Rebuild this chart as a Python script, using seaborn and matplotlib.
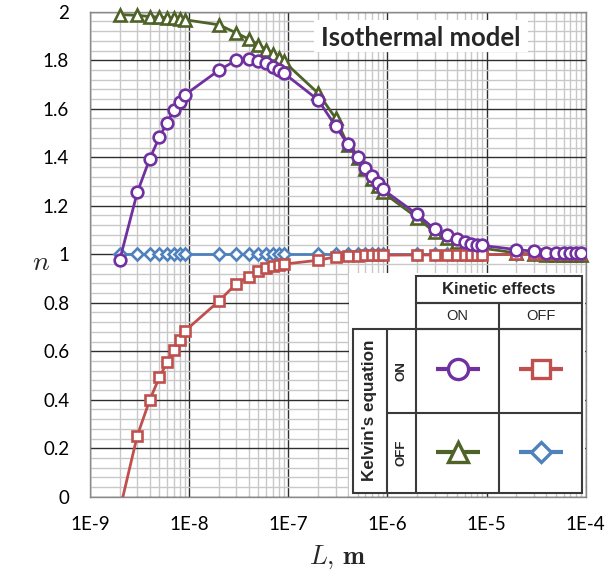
import numpy as np
import pandas as pd
import matplotlib
matplotlib.use("Agg")
import matplotlib.pyplot as plt
import matplotlib.ticker as mticker
from matplotlib.patches import Rectangle
import seaborn as sns

# ---------------- data ----------------
L_m = [2e-9, 3e-9, 4e-9, 5e-9, 6e-9, 7e-9, 8e-9, 9e-9,
       2e-8, 3e-8, 4e-8, 5e-8, 6e-8, 7e-8, 8e-8, 9e-8,
       2e-7, 3e-7, 4e-7, 5e-7, 6e-7, 7e-7, 8e-7, 9e-7,
       2e-6, 3e-6, 4e-6, 5e-6, 6e-6, 7e-6, 8e-6, 9e-6,
       2e-5, 3e-5, 4e-5, 5e-5, 6e-5, 7e-5, 8e-5, 9e-5]

# Kelvin ON, kinetic ON (purple circles)
n_kel_on_kin_on = [0.978, 1.255, 1.393, 1.482, 1.543, 1.595, 1.628, 1.656,
                   1.759, 1.800, 1.804, 1.798, 1.790, 1.773, 1.760, 1.747,
                   1.636, 1.528, 1.453, 1.400, 1.357, 1.322, 1.295, 1.267,
                   1.164, 1.103, 1.080, 1.062, 1.050, 1.044, 1.040, 1.036,
                   1.019, 1.012, 1.006, 1.005, 1.004, 1.004, 1.003, 1.003]

# Kelvin ON, kinetic OFF (red squares)
n_kel_on_kin_off = [-0.054, 0.252, 0.398, 0.492, 0.554, 0.603, 0.647, 0.682,
                    0.807, 0.879, 0.906, 0.931, 0.943, 0.952, 0.957, 0.959,
                    0.975, 0.989, 0.992, 0.994, 0.995, 0.996, 0.996, 0.996,
                    0.997, 0.997, 0.998, 0.998, 0.998, 0.998, 0.998, 0.998,
                    0.999, 0.999, 0.999, 0.999, 1.000, 1.000, 1.000, 1.000]

# Kelvin OFF, kinetic ON (green triangles)
n_kel_off_kin_on = [1.988, 1.985, 1.980, 1.978, 1.975, 1.972, 1.970, 1.967,
                    1.946, 1.912, 1.887, 1.864, 1.843, 1.825, 1.809, 1.795,
                    1.664, 1.561, 1.450, 1.395, 1.350, 1.310, 1.280, 1.255,
                    1.150, 1.090, 1.065, 1.050, 1.040, 1.035, 1.030, 1.025,
                    1.005, 1.000, 0.997, 0.996, 0.995, 0.995, 0.995, 0.995]

# Kelvin OFF, kinetic OFF (blue diamonds)
n_kel_off_kin_off = [1.0] * len(L_m)

x_ticks = [1e-9, 1e-8, 1e-7, 1e-6, 1e-5, 1e-4]
x_tick_labels = ["1E-9", "1E-8", "1E-7", "1E-6", "1E-5", "1E-4"]
y_ticks = [0, 0.2, 0.4, 0.6, 0.8, 1.0, 1.2, 1.4, 1.6, 1.8, 2.0]
y_tick_labels = ["0", "0.2", "0.4", "0.6", "0.8", "1", "1.2", "1.4", "1.6", "1.8", "2"]

title_text = "Isothermal model"
legend_header = "Kinetic effects"
legend_row_title = "Kelvin's equation"
on_off = ["ON", "OFF"]

PURPLE = "#7030A0"
RED = "#C0504D"
GREEN = "#4F6228"
BLUE = "#4F81BD"

# ---------------- style ----------------
sns.set_theme(style="white")
plt.rcParams["font.family"] = ["Lato", "DejaVu Sans"]
plt.rcParams["mathtext.fontset"] = "cm"

W, H = 607, 575
fig = plt.figure(figsize=(W / 100, H / 100), dpi=100)
fig.patch.set_facecolor("white")

x0, x1, y0, y1 = 90, 585.7, 11.7, 496.7
ax = fig.add_axes([x0 / W, 1 - y1 / H, (x1 - x0) / W, (y1 - y0) / H])
ax.set_facecolor("white")
ax.set_xscale("log")

series = [
    (n_kel_off_kin_off, BLUE, "D", 6.0, 2, True),
    (n_kel_off_kin_on, GREEN, "^", 9.0, 3, False),
    (n_kel_on_kin_off, RED, "s", 7.4, 4, True),
    (n_kel_on_kin_on, PURPLE, "o", 8.4, 5, True),
]
for vals, col, mk, ms, z, clip in series:
    sns.lineplot(x=L_m, y=vals, ax=ax, color=col, marker=mk, markersize=ms,
                 markerfacecolor="white", markeredgecolor=col,
                 markeredgewidth=1.9, linewidth=2.0, zorder=z,
                 clip_on=clip, legend=False, sort=False)

ax.set_xlim(1e-9, 1e-4)
ax.set_ylim(0, 2)

ax.xaxis.set_major_locator(mticker.FixedLocator(x_ticks))
ax.xaxis.set_major_formatter(mticker.FixedFormatter(x_tick_labels))
ax.xaxis.set_minor_locator(mticker.LogLocator(base=10, subs=np.arange(2, 10), numticks=20))
ax.xaxis.set_minor_formatter(mticker.NullFormatter())
ax.yaxis.set_major_locator(mticker.FixedLocator(y_ticks))
ax.yaxis.set_major_formatter(mticker.FixedFormatter(y_tick_labels))
ax.yaxis.set_minor_locator(mticker.MultipleLocator(0.04))

ax.grid(which="major", color="#2e2e2e", linewidth=1.0)
ax.grid(which="minor", color="#c8c8c8", linewidth=1.0)
ax.set_axisbelow(True)

for s in ax.spines.values():
    s.set_color("#8a8a8a")
    s.set_linewidth(1.0)

ax.tick_params(axis="both", which="major", labelsize=13.5, colors="#000000",
               direction="out", color="#555555", width=1.0)
ax.tick_params(axis="y", which="major", length=6, pad=9)
ax.tick_params(axis="x", which="major", length=5, pad=9)
ax.tick_params(axis="x", which="minor", direction="in", length=3, color="#777777", width=0.8)
ax.tick_params(axis="y", which="minor", length=0)

ax.set_xlabel(r"$L,\,\mathbf{m}$", fontsize=19)
ax.xaxis.label.set_va("center")
ax.xaxis.set_label_coords(0.5, (y1 - 557) / (y1 - y0))
ax.set_ylabel(r"$n$", fontsize=20, rotation=0, va="center", ha="center")
ax.yaxis.set_label_coords((41 - x0) / (x1 - x0), (y1 - 262) / (y1 - y0))

# ---------------- overlay: title box and legend table ----------------
ov = fig.add_axes([0, 0, 1, 1], zorder=10)
ov.set_xlim(0, W)
ov.set_ylim(H, 0)
ov.axis("off")
ov.patch.set_alpha(0)

ov.add_patch(Rectangle((314, 20), 214, 32, facecolor="white", edgecolor="none"))
ov.text(421, 37.5, title_text, fontsize=18.5, fontweight="bold", ha="center",
        va="center", family=["Lato", "DejaVu Sans"])

LC = "#3a3a3a"
LW = 1.5
ov.add_patch(Rectangle((349, 273), 236, 220.5, facecolor="white", edgecolor="none"))
# header
ov.add_patch(Rectangle((416, 276), 166, 26.7, facecolor="none", edgecolor=LC, lw=LW))
ov.add_patch(Rectangle((416, 302.7), 166, 26, facecolor="none", edgecolor=LC, lw=LW))
ov.plot([499, 499], [302.7, 328.7], color=LC, lw=LW)
# body
ov.add_patch(Rectangle((352.7, 328.7), 229.3, 164, facecolor="none", edgecolor=LC, lw=LW))
for xv in (386.7, 416, 499):
    ov.plot([xv, xv], [328.7, 492.7], color=LC, lw=LW)
ov.plot([386.7, 582], [413.3, 413.3], color=LC, lw=LW)

lfam = ["Liberation Sans", "DejaVu Sans"]
ov.text(499, 290, legend_header, fontsize=12, fontweight="bold", ha="center",
        va="center", family=lfam)
ov.text(457.5, 316, on_off[0], fontsize=10.5, ha="center", va="center", family=lfam)
ov.text(540.5, 316, on_off[1], fontsize=10.5, ha="center", va="center", family=lfam)
ov.text(369.7, 410.7, legend_row_title, fontsize=12.3, fontweight="bold", rotation=90,
        ha="center", va="center", family=lfam)
ov.text(401.3, 371, on_off[0], fontsize=9.5, fontweight="bold", rotation=90,
        ha="center", va="center", family=lfam)
ov.text(401.3, 453, on_off[1], fontsize=9.5, fontweight="bold", rotation=90,
        ha="center", va="center", family=lfam)

leg_items = [
    (457.5, 369, PURPLE, "o", 14.5),
    (540.5, 369, RED, "s", 13),
    (457.5, 451.5, GREEN, "^", 15),
    (540.5, 451.5, BLUE, "D", 10),
]
for cx, cy, col, mk, ms in leg_items:
    ov.plot([cx - 22, cx + 22], [cy, cy], color=col, lw=3.0, solid_capstyle="butt")
    ov.plot([cx], [cy], marker=mk, markersize=ms, markerfacecolor="white",
            markeredgecolor=col, markeredgewidth=2.4, linestyle="none")

fig.savefig("out.png", dpi=100, facecolor="white")
